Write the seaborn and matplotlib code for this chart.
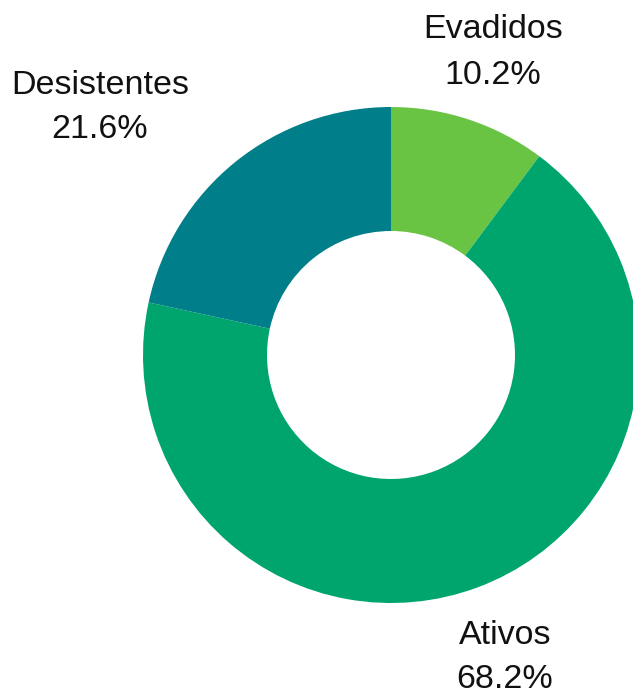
import matplotlib.pyplot as plt
import seaborn as sns

labels = ["Evadidos", "Ativos", "Desistentes"]
shares = [10.2, 68.2, 21.6]
colors = ["#6AC443", "#00A56E", "#007E89"]

# label anchor positions in pixels (x, y from top)
label_pos = [(493, 52), (505, 657), (100, 107)]

sns.set_theme(style="white")
plt.rcParams["font.family"] = ["Liberation Sans", "DejaVu Sans"]

W, H = 633, 692
fig = plt.figure(figsize=(W / 100, H / 100), dpi=100)
ax = fig.add_axes([0, 0, 1, 1])

cx, cy, r = 391, H - 355, 248
ax.pie(shares, colors=colors, startangle=90, counterclock=False,
       center=(cx, cy), radius=r, frame=True,
       wedgeprops=dict(width=r - 124, linewidth=0))
ax.set_xlim(0, W)
ax.set_ylim(0, H)
ax.set_aspect("equal")
ax.axis("off")

for name, val, (x, y) in zip(labels, shares, label_pos):
    ax.text(x, H - y + 22, name, ha="center", va="center", fontsize=24.5, color="#111111")
    ax.text(x, H - y - 23, "{:.1f}%".format(val), ha="center", va="center", fontsize=24.5, color="#111111")

plt.savefig("out.png", dpi=100)
plt.close()
